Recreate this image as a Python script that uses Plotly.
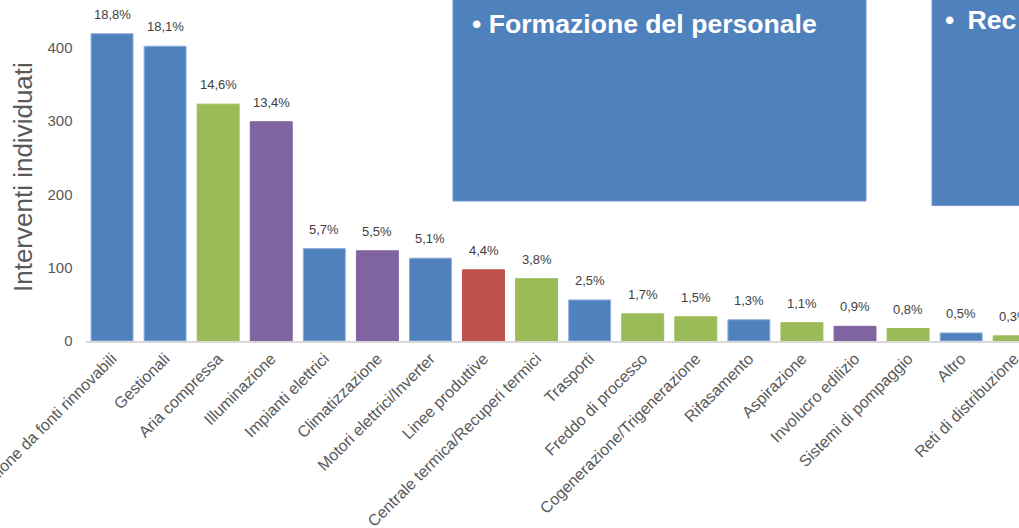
import plotly.graph_objects as go

categories = [
    "Produzione da fonti rinnovabili", "Gestionali", "Aria compressa", "Illuminazione",
    "Impianti elettrici", "Climatizzazione", "Motori elettrici/Inverter", "Linee produttive",
    "Centrale termica/Recuperi termici", "Trasporti", "Freddo di processo",
    "Cogenerazione/Trigenerazione", "Rifasamento", "Aspirazione", "Involucro edilizio",
    "Sistemi di pompaggio", "Altro", "Reti di distribuzione",
]
values = [419, 402, 323, 299, 126, 123, 113, 97, 85, 56, 37, 33, 29, 25, 20, 17, 11, 7]
percent_labels = ["18,8%", "18,1%", "14,6%", "13,4%", "5,7%", "5,5%", "5,1%", "4,4%", "3,8%",
                  "2,5%", "1,7%", "1,5%", "1,3%", "1,1%", "0,9%", "0,8%", "0,5%", "0,3%"]
groups = ["b", "b", "g", "p", "b", "p", "b", "r", "g", "b", "g", "g", "b", "g", "p", "g", "b", "g"]
y_ticks = [0, 100, 200, 300, 400]
y_title = "Interventi individuati"
box_texts = ["• Formazione del personale", "•\u2002Rec"]

fill = {"b": "#4F81BD", "g": "#9BBB59", "p": "#8064A2", "r": "#C0504D"}
edge = {"b": "#8FAEDA", "g": "#9BBB59", "p": "#8064A2", "r": "#C0504D"}

W, H = 1019, 528
def px(x):
    return x / W
def py(y):
    return (H - y) / H

FONT = "Liberation Sans, Arial, sans-serif"
idx = list(range(len(categories)))

fig = go.Figure()
fig.add_trace(go.Bar(
    x=idx, y=values,
    marker=dict(color=[fill[g] for g in groups],
                line=dict(color=[edge[g] for g in groups], width=1)),
    width=0.79,
    hoverinfo="skip",
))

annotations = []
for i, (v, t) in enumerate(zip(values, percent_labels)):
    annotations.append(dict(x=i, y=v, xref="x", yref="y", text=t, showarrow=False,
                            yanchor="bottom", yshift=10,
                            font=dict(family=FONT, size=13, color="#404040")))

annotations.append(dict(x=px(23), y=py(177), xref="paper", yref="paper", text=y_title,
                        showarrow=False, textangle=-90, xanchor="center", yanchor="middle",
                        font=dict(family=FONT, size=26, color="#595959")))

fig.update_layout(
    width=W, height=H, autosize=False,
    margin=dict(l=0, r=0, t=0, b=0, pad=0),
    paper_bgcolor="white", plot_bgcolor="white",
    showlegend=False,
    bargap=0.2,
    xaxis=dict(
        domain=[px(85.5), 1.0],
        range=[-0.5, 17.09],
        tickmode="array", tickvals=idx, ticktext=categories,
        tickangle=-45,
        tickfont=dict(family=FONT, size=16, color="#595959"),
        showgrid=False, zeroline=False,
        showline=True, linecolor="#D9D9D9", linewidth=2,
        ticks="", automargin=False, ticklabeloverflow="allow",
    ),
    yaxis=dict(
        domain=[py(341), py(11)],
        range=[0, 450],
        tickmode="array", tickvals=y_ticks,
        tickfont=dict(family=FONT, size=15, color="#595959"),
        showgrid=False, zeroline=False, showline=False,
        ticks="", ticklabelstandoff=12, automargin=False,
    ),
    shapes=[
        dict(type="rect", xref="paper", yref="paper",
             x0=px(453), x1=px(866), y0=py(201), y1=py(-5),
             fillcolor="#4F81BD", line=dict(color="#6E96CC", width=1), layer="above"),
        dict(type="rect", xref="paper", yref="paper",
             x0=px(932), x1=px(1030), y0=py(205.5), y1=py(-5),
             fillcolor="#4F81BD", line=dict(color="#6E96CC", width=1), layer="above"),
    ],
    annotations=annotations + [
        dict(x=px(470), y=py(24), xref="paper", yref="paper", text="<b>" + box_texts[0] + "</b>",
             showarrow=False, xanchor="left", yanchor="middle",
             font=dict(family=FONT, size=26.6, color="white")),
        dict(x=px(943), y=py(20), xref="paper", yref="paper", text="<b>" + box_texts[1] + "</b>",
             showarrow=False, xanchor="left", yanchor="middle",
             font=dict(family=FONT, size=26.6, color="white")),
    ],
)

fig.write_html("out.html", config={"displayModeBar": False})
